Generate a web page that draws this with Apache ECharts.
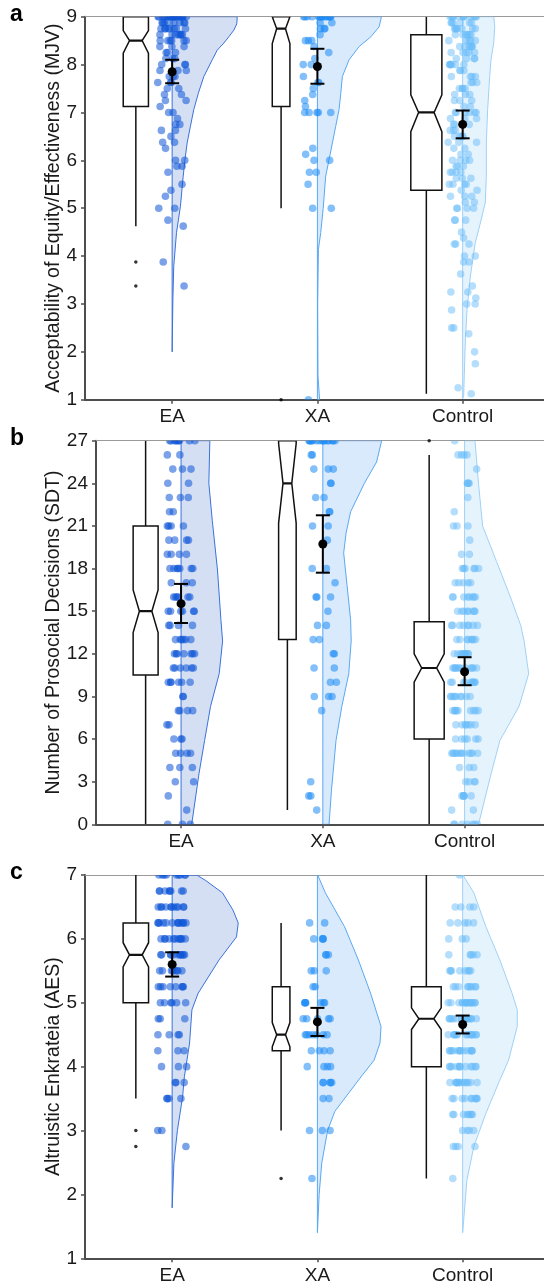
<!DOCTYPE html>
<html>
<head>
<meta charset="utf-8">
<script src="https://cdn.jsdelivr.net/npm/echarts@6/dist/echarts.min.js"></script>
<style>
  html, body { margin: 0; padding: 0; background: #fff; }
  #chart { width: 544px; height: 1286px; }
</style>
</head>
<body>
<div id="chart"></div>
<script>
const groups = ["EA", "XA", "Control"]

// raw responses as [value, count]
const mjvEA = [[9,24],[8.875,8],[8.75,8],[8.625,7],[8.5,6],[8.375,3],[8.25,3],[8.125,3],[8,3],[7.875,3],[7.75,3],[7.625,3],[7.5,2],[7.375,2],[7.25,2],[7.125,1],[7,2],[6.875,1],[6.75,2],[6.625,2],[6.5,1],[6.375,2],[6.25,1],[6,2],[5.875,2],[5.75,1],[5.5,1],[5.375,1],[5.25,1],[5,2],[4.75,1],[4.625,1],[3.875,1],[3.375,1]]
const mjvXA = [[9,16],[8.875,2],[8.75,3],[8.625,1],[8.5,3],[8.375,1],[8.25,1],[8.125,1],[8,2],[7.75,1],[7.625,2],[7.5,1],[7.375,1],[7.25,1],[7.125,1],[7,5],[6.25,1],[6.125,1],[6,2],[5.75,2],[5.5,1],[5,2],[1,1]]
const mjvControl = [[9,12],[8.875,6],[8.75,7],[8.625,6],[8.5,5],[8.375,6],[8.25,5],[8.125,4],[8,6],[7.875,3],[7.75,4],[7.625,3],[7.5,4],[7.375,3],[7.25,3],[7.125,2],[7,6],[6.875,3],[6.75,3],[6.625,3],[6.5,4],[6.375,3],[6.25,2],[6.125,2],[6,4],[5.875,3],[5.75,4],[5.625,3],[5.5,4],[5.375,2],[5.25,3],[5.125,2],[5,4],[4.75,3],[4.5,1],[4.375,1],[4.25,3],[4,2],[3.875,2],[3.625,1],[3.375,1],[3.25,2],[3.125,1],[3,2],[2.875,1],[2.5,2],[2.375,1],[2,1],[1.75,1],[1.25,1],[1.125,1]]

const sdtEA = [[27,9],[26,2],[25,3],[24,2],[23,3],[22,2],[21,4],[20,4],[19,4],[18,7],[17,3],[16,6],[15,6],[14,4],[13,6],[12,7],[11,6],[10,6],[9,2],[8,4],[7,2],[6,3],[5,4],[4,3],[3,2],[2,1],[1,1],[0,3]]
const sdtXA = [[27,15],[26,2],[25,3],[24,2],[23,2],[22,2],[21,2],[20,1],[18,2],[17,1],[16,3],[15,1],[14,2],[13,2],[12,2],[11,2],[10,2],[9,3],[8,1],[3,1],[2,2],[1,1]]
const sdtControl = [[27,1],[26,4],[25,1],[24,4],[23,1],[22,1],[21,3],[20,1],[19,2],[18,6],[17,5],[16,8],[15,8],[14,8],[13,8],[12,10],[11,12],[10,10],[9,9],[8,9],[7,7],[6,6],[5,12],[4,3],[3,4],[2,6],[1,2],[0,7]]

const aesEA = [[7,9],[6.75,8],[6.5,11],[6.25,13],[6,11],[5.75,11],[5.5,8],[5.25,8],[5,6],[4.75,3],[4.5,4],[4.25,3],[4,3],[3.75,3],[3.5,4],[3,2],[2.75,1]]
const aesXA = [[6.25,2],[6,4],[5.75,3],[5.5,3],[5.25,2],[5,7],[4.75,5],[4.5,7],[4.25,4],[4,4],[3.75,5],[3.5,2],[3,3],[2.25,1]]
const aesControl = [[7,1],[6.5,4],[6.25,5],[6,3],[5.75,5],[5.5,8],[5.25,9],[5,16],[4.75,16],[4.5,14],[4.25,14],[4,12],[3.75,13],[3.5,10],[3.25,8],[3,4],[2.75,4],[2.25,1]]

// box stats: [whiskerLow, q1, notchLow, median, notchHigh, q3, whiskerHigh]
const mjvBox = [[4.625,7.125,8.24,8.5,8.71,9,9],[5,7.125,8.44,8.75,9,9,9],[1.125,5.375,6.6,7,7.37,8.625,9]]
const sdtBox = [[0,10.5,13.5,15,16.5,21,27],[1,13,21.2,24,26.8,27,27],[0,6,10,11,12,14.25,26]]
const aesBox = [[3.5,5,5.56,5.75,5.94,6.25,7],[3,4.25,4.31,4.5,4.69,5.25,6.25],[2.25,4,4.58,4.75,4.92,5.25,7]]

// outliers: [group (1..3), value]
const mjvOutliers = [[1,3.875],[1,3.375],[2,1]]
const sdtOutliers = [[3,27]]
const aesOutliers = [[1,3],[1,2.75],[2,2.25]]

// mean and 95% CI
const mjvMean = [7.85, 7.96, 6.75]
const mjvCiLow = [7.61, 7.6, 6.46]
const mjvCiHigh = [8.1, 8.33, 7.04]
const sdtMean = [15.53, 19.73, 10.74]
const sdtCiLow = [14.17, 17.71, 9.79]
const sdtCiHigh = [16.92, 21.75, 11.76]
const aesMean = [5.6, 4.7, 4.66]
const aesCiLow = [5.41, 4.48, 4.52]
const aesCiHigh = [5.79, 4.92, 4.8]

// half violin density profiles: [value, density]
const mjvDensEA = [[9,0.448],[8.85,0.445],[8.72,0.425],[8.58,0.39],[8.45,0.356],[8.3,0.31],[8.1,0.276],[7.75,0.218],[7.4,0.18],[7.06,0.149],[6.7,0.125],[6.36,0.103],[6,0.088],[5.67,0.076],[5.04,0.057],[4.49,0.03],[3.79,0.011],[3.1,0.005],[2,0]]
const mjvDensXA = [[9,0.441],[8.79,0.425],[8.58,0.368],[8.375,0.287],[8.1,0.218],[7.75,0.172],[7.4,0.161],[7.06,0.149],[6.71,0.126],[6.36,0.103],[6.01,0.08],[5.67,0.057],[5,0.04],[4.49,0.023],[4.14,0.007],[3,0.002],[1.5,0.004],[1,0.015]]
const mjvDensControl = [[9,0.214],[8.79,0.221],[8.45,0.214],[8.1,0.195],[7.75,0.186],[7.06,0.172],[6.36,0.163],[5.67,0.163],[5.12,0.156],[4.63,0.117],[4.28,0.087],[3.58,0.053],[2.89,0.03],[2.2,0.018],[1.5,0.011],[1.08,0.007],[1.02,0]]
const sdtDensEA = [[27,0.203],[24,0.196],[21.4,0.22],[17.9,0.257],[14.4,0.281],[12.9,0.293],[10.6,0.269],[8.3,0.208],[5.9,0.166],[3.6,0.127],[0,0.075]]
const sdtDensXA = [[27,0.415],[25.5,0.379],[24,0.293],[22,0.196],[20.5,0.164],[19.1,0.147],[16.8,0.171],[14.4,0.196],[12.9,0.2],[10.6,0.183],[8.3,0.134],[5.9,0.093],[2.4,0.061],[0,0.044]]
const sdtDensControl = [[27,0.073],[24,0.098],[21,0.127],[18.5,0.225],[16,0.323],[14,0.396],[12.9,0.42],[10.6,0.452],[8.3,0.384],[5.9,0.249],[3.6,0.188],[0,0.098]]
const aesDensEA = [[7,0.168],[6.92,0.227],[6.72,0.347],[6.45,0.419],[6.25,0.455],[6.03,0.443],[5.67,0.323],[5.15,0.179],[4.89,0.136],[4.37,0.12],[3.84,0.084],[3.53,0.072],[3,0.036],[2.49,0.012],[1.79,0]]
const aesDensXA = [[7,0.002],[6.72,0.055],[6.19,0.187],[5.67,0.282],[5.15,0.366],[4.63,0.438],[4.37,0.431],[4.1,0.39],[3.84,0.3],[3.6,0.22],[3.3,0.12],[3,0.07],[2.49,0.03],[2,0.012],[1.4,0]]
const aesDensControl = [[7,0.002],[6.72,0.077],[6.19,0.16],[5.67,0.256],[5.15,0.34],[4.89,0.376],[4.63,0.376],[4.1,0.316],[3.79,0.256],[3.27,0.16],[2.75,0.077],[2.22,0.029],[1.4,0]]

const FONT = "'Liberation Sans', Arial, sans-serif"
const pointColors = ["rgba(15, 85, 215, 0.55)", "rgba(30, 140, 245, 0.55)", "rgba(100, 185, 248, 0.48)"]
const violinFill = ["rgba(40, 95, 200, 0.2)", "rgba(60, 150, 240, 0.2)", "rgba(110, 190, 245, 0.18)"]
const violinLine = ["#3a72db", "#5aa8f2", "#9fd1f7"]
const BOX_OFFSET = -0.25
const JITTER = 0.1
const BOX_K = 0.00843 // half box width per sqrt(n)

// deterministic horizontal jitter, layout only
function jitter(i) {
  const s = Math.sin(i * 12.9898 + 78.233) * 43758.5453
  return s - Math.floor(s) - 0.5
}

const panels = [
  { letter: "a", name: "Acceptability of Equity/Effectiveness (MJV)", left: 85, top: 16.7, height: 383, min: 1, max: 9, interval: 1, nameGap: 21,
    raw: [mjvEA, mjvXA, mjvControl], box: mjvBox, outliers: mjvOutliers, mean: mjvMean, lo: mjvCiLow, hi: mjvCiHigh, dens: [mjvDensEA, mjvDensXA, mjvDensControl] },
  { letter: "b", name: "Number of Prosocial Decisions (SDT)", left: 96, top: 440.7, height: 383.6, min: 0, max: 27, interval: 3, nameGap: 32,
    raw: [sdtEA, sdtXA, sdtControl], box: sdtBox, outliers: sdtOutliers, mean: sdtMean, lo: sdtCiLow, hi: sdtCiHigh, dens: [sdtDensEA, sdtDensXA, sdtDensControl] },
  { letter: "c", name: "Altruistic Enkrateia (AES)", left: 85, top: 875, height: 383.3, min: 1, max: 7, interval: 1, nameGap: 21,
    raw: [aesEA, aesXA, aesControl], box: aesBox, outliers: aesOutliers, mean: aesMean, lo: aesCiLow, hi: aesCiHigh, dens: [aesDensEA, aesDensXA, aesDensControl] },
]

let grid = [], xAxis = [], yAxis = [], series = [], graphic = []

panels.forEach((p, i) => {
  grid.push({ left: p.left, top: p.top, height: p.height, right: 0 })
  xAxis.push({
    gridIndex: i, type: "value", min: 0.4, max: 3.56,
    axisLine: { lineStyle: { color: "#4d4d4d", width: 2 } },
    axisTick: { customValues: [1, 2, 3], length: 4, lineStyle: { color: "#4d4d4d", width: 1.5 } },
    axisLabel: { customValues: [1, 2, 3], formatter: (v) => groups[Math.round(v) - 1], color: "#1a1a1a", fontSize: 19, fontFamily: FONT, margin: 8 },
    splitLine: { show: false },
  })
  xAxis.push({
    gridIndex: i, type: "value", min: 0.4, max: 3.56, position: "top",
    axisLine: { lineStyle: { color: "#9a9a9a", width: 1.2 } },
    axisTick: { show: false }, axisLabel: { show: false }, splitLine: { show: false },
  })
  yAxis.push({
    gridIndex: i, type: "value", min: p.min, max: p.max, interval: p.interval,
    name: p.name, nameLocation: "middle", nameGap: p.nameGap, nameMoveOverlap: false,
    nameTextStyle: { fontSize: 19.5, fontFamily: FONT, color: "#1a1a1a" },
    axisLine: { show: true, lineStyle: { color: "#4d4d4d", width: 2 } },
    axisTick: { show: true, length: 4, lineStyle: { color: "#4d4d4d", width: 1.5 } },
    axisLabel: { color: "#1a1a1a", fontSize: 19, fontFamily: FONT, margin: 8 },
    splitLine: { show: false },
  })
  graphic.push({
    type: "text", left: 10, top: p.top - 14,
    style: { text: p.letter, font: "bold 23px " + FONT, fill: "#000" },
  })

  const xi = i * 2
  const counts = p.raw.map((g) => g.reduce((s, d) => s + d[1], 0))

  // boxes
  series.push({
    type: "custom", xAxisIndex: xi, yAxisIndex: i, z: 2, clip: true,
    data: p.box.map((b, g) => [g + 1].concat(b, [BOX_K * Math.sqrt(counts[g])])),
    renderItem: (params, api) => {
      const x = api.value(0) + BOX_OFFSET
      const v = [1, 2, 3, 4, 5, 6, 7].map((k) => api.value(k))
      const hw = api.value(8)
      const nw = hw * 0.5
      const P = (dx, y) => api.coord([x + dx, y])
      const nHigh = Math.min(v[4], v[5]), nLow = Math.max(v[2], v[1])
      const pts = [P(-hw, v[1]), P(-hw, nLow), P(-nw, v[3]), P(-hw, nHigh), P(-hw, v[5]),
        P(hw, v[5]), P(hw, nHigh), P(nw, v[3]), P(hw, nLow), P(hw, v[1])]
      const line = (a, b, w) => ({ type: "line", shape: { x1: a[0], y1: a[1], x2: b[0], y2: b[1] }, style: { stroke: "#111", lineWidth: w } })
      return {
        type: "group",
        children: [
          line(P(0, v[0]), P(0, v[1]), 1.5),
          line(P(0, v[5]), P(0, v[6]), 1.5),
          { type: "polygon", shape: { points: pts }, style: { fill: "#fff", stroke: "#111", lineWidth: 1.5 } },
          line(P(-nw, v[3]), P(nw, v[3]), 2.2),
        ],
      }
    },
  })

  // half violins
  series.push({
    type: "custom", xAxisIndex: xi, yAxisIndex: i, z: 3, clip: true,
    data: [[1], [2], [3]],
    renderItem: (params, api) => {
      const g = api.value(0) - 1
      const prof = p.dens[g]
      const x = g + 1
      const pts = [api.coord([x, prof[0][0]])]
      prof.forEach((d) => pts.push(api.coord([x + d[1], d[0]])))
      pts.push(api.coord([x, prof[prof.length - 1][0]]))
      return { type: "polygon", shape: { points: pts }, style: { fill: violinFill[g], stroke: violinLine[g], lineWidth: 1 } }
    },
  })

  // jittered points
  let pts = []
  let idx = 0
  p.raw.forEach((g, gi) => {
    g.forEach((d) => {
      for (let c = 0; c < d[1]; c++) {
        pts.push([gi + 1 + jitter(idx + i * 1000) * 2 * JITTER, d[0], gi])
        idx++
      }
    })
  })
  series.push({
    type: "custom", xAxisIndex: xi, yAxisIndex: i, z: 4, clip: true,
    data: pts,
    renderItem: (params, api) => {
      const c = api.coord([api.value(0), api.value(1)])
      return { type: "circle", shape: { cx: c[0], cy: c[1], r: 3.8 }, style: { fill: pointColors[api.value(2)] } }
    },
  })

  // outliers
  series.push({
    type: "scatter", xAxisIndex: xi, yAxisIndex: i, z: 5, symbolSize: 3.5,
    itemStyle: { color: "#000" }, silent: true,
    data: p.outliers.map((o) => [o[0] + BOX_OFFSET, o[1]]),
  })

  // mean with CI
  series.push({
    type: "custom", xAxisIndex: xi, yAxisIndex: i, z: 6,
    data: p.mean.map((m, g) => [g + 1, m, p.lo[g], p.hi[g]]),
    renderItem: (params, api) => {
      const x = api.value(0)
      const m = api.coord([x, api.value(1)])
      const lo = api.coord([x, api.value(2)])
      const hi = api.coord([x, api.value(3)])
      const st = { stroke: "#000", lineWidth: 2 }
      return {
        type: "group",
        children: [
          { type: "line", shape: { x1: m[0], y1: lo[1], x2: m[0], y2: hi[1] }, style: st },
          { type: "line", shape: { x1: m[0] - 7, y1: lo[1], x2: m[0] + 7, y2: lo[1] }, style: st },
          { type: "line", shape: { x1: m[0] - 7, y1: hi[1], x2: m[0] + 7, y2: hi[1] }, style: st },
          { type: "circle", shape: { cx: m[0], cy: m[1], r: 4.5 }, style: { fill: "#000" } },
        ],
      }
    },
  })
})

const myChart = echarts.init(document.getElementById("chart"), null, { renderer: "canvas" })
myChart.setOption({
  animation: false,
  grid: grid,
  xAxis: xAxis,
  yAxis: yAxis,
  series: series,
  graphic: graphic,
})
</script>
</body>
</html>
